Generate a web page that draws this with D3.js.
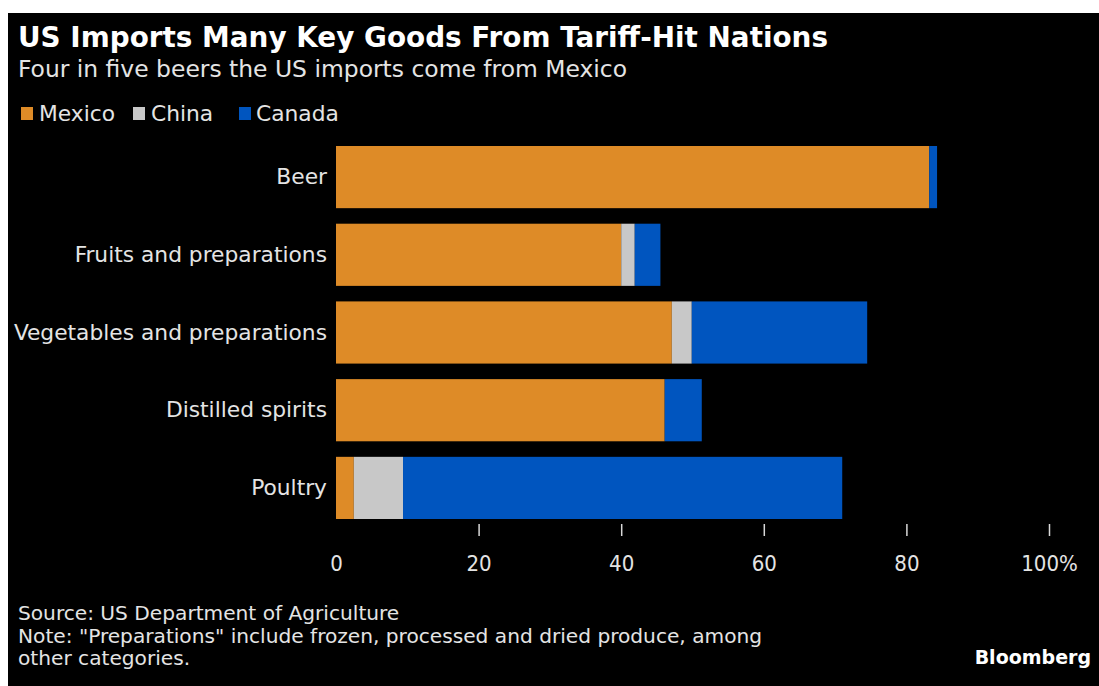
<!DOCTYPE html>
<html>
<head>
<meta charset="utf-8">
<script src="https://cdn.jsdelivr.net/npm/d3@7"></script>
<style>
    html, body { margin: 0; padding: 0; background: #fff; }
    #vis { width: 1099px; height: 686px; }
    text { fill: #e4e4e4; }
</style>
</head>
<body>
<div id="vis"></div>
<script>
// chart data (percent of US imports)
var categories = ["Beer", "Fruits and preparations", "Vegetables and preparations", "Distilled spirits", "Poultry"];
var mexico = [83.2, 40.0, 47.1, 46.1, 2.5];
var china = [0, 1.9, 2.8, 0, 6.9];
var canada = [1.1, 3.6, 24.6, 5.2, 61.6];
var seriesNames = ["Mexico", "China", "Canada"];
var seriesColors = ["#de8b27", "#c8c8c8", "#0055bf"];
var tickValues = [0, 20, 40, 60, 80, 100];
var tickLabels = ["0", "20", "40", "60", "80", "100%"];

var condensed = "'DejaVu Sans Condensed', 'Liberation Sans Narrow', 'DejaVu Sans', sans-serif";
var bold = "'DejaVu Sans', sans-serif";

var width = 1099, height = 686;

//widen text a little, the original font runs wider than the condensed one
function stretch(sel, k) {
    sel.each(function () {
        var len = this.getComputedTextLength();
        d3.select(this).attr("textLength", len * k).attr("lengthAdjust", "spacingAndGlyphs");
    });
}

var svg = d3.select("#vis").append("svg").attr("width", width).attr("height", height);

//black panel
svg.append("rect").attr("x", 8).attr("y", 13).attr("width", width - 8).attr("height", height - 13).attr("fill", "#000");

//title and subtitle
svg.append("text").attr("x", 18).attr("y", 47)
    .attr("font-family", bold).attr("font-weight", "bold").attr("font-size", 28)
    .attr("textLength", 810).attr("lengthAdjust", "spacingAndGlyphs")
    .style("fill", "#fff")
    .text("US Imports Many Key Goods From Tariff-Hit Nations");

svg.append("text").attr("x", 18).attr("y", 77)
    .attr("font-family", condensed).attr("font-size", 23)
    .attr("textLength", 609).attr("lengthAdjust", "spacingAndGlyphs")
    .text("Four in five beers the US imports come from Mexico");

//legend
var legendSquareX = [21, 133, 239];
var legendTextX = [39, 151, 256];
var legend = svg.append("g").selectAll("g")
    .data(seriesNames)
    .enter().append("g");

legend.append("rect")
    .attr("x", function (d, i) { return legendSquareX[i]; })
    .attr("y", 107).attr("width", 12).attr("height", 13)
    .attr("fill", function (d, i) { return seriesColors[i]; });

legend.append("text")
    .attr("x", function (d, i) { return legendTextX[i]; })
    .attr("y", 121)
    .attr("font-family", condensed).attr("font-size", 22)
    .text(function (d) { return d; })
    .call(stretch, 1.1);

//scales
var x = d3.scaleLinear().domain([0, 100]).range([336, 1049]);
var y = d3.scaleBand().domain(categories).range([146, 519]).paddingInner(0.2).paddingOuter(0);

//stack the series
var table = categories.map(function (c, i) {
    return { category: c, Mexico: mexico[i], China: china[i], Canada: canada[i] };
});
var stacked = d3.stack().keys(seriesNames)(table);

svg.append("g").selectAll("g")
    .data(stacked)
    .enter().append("g")
    .attr("fill", function (d, i) { return seriesColors[i]; })
    .selectAll("rect")
    .data(function (d) { return d; })
    .enter().append("rect")
    .attr("x", function (d) { return x(d[0]); })
    .attr("y", function (d) { return y(d.data.category); })
    .attr("width", function (d) { return x(d[1]) - x(d[0]); })
    .attr("height", y.bandwidth());

//category labels
var yAxis = d3.axisLeft(y).tickSize(0).tickPadding(9);
var yGroup = svg.append("g").attr("transform", "translate(336,0)").call(yAxis);
yGroup.select(".domain").remove();
yGroup.selectAll("text")
    .attr("font-family", condensed).attr("font-size", 22)
    .style("fill", "#e4e4e4")
    .call(stretch, 1.1);

//x axis with ticks above labels
var xAxis = d3.axisBottom(x).tickValues(tickValues).tickSize(0).tickPadding(0)
    .tickFormat(function (d, i) { return tickLabels[i]; });
var xGroup = svg.append("g").attr("transform", "translate(0,550)").call(xAxis);
xGroup.select(".domain").remove();
xGroup.selectAll("text")
    .attr("font-family", condensed).attr("font-size", 22)
    .attr("dy", "0.95em")
    .style("fill", "#e4e4e4");
xGroup.selectAll(".tick").filter(function (d) { return d > 0; })
    .append("line").attr("y1", -26).attr("y2", -14)
    .attr("stroke", "#d8d8d8").attr("stroke-width", 1.5);

//footer
var footer = ["Source: US Department of Agriculture",
    "Note: \"Preparations\" include frozen, processed and dried produce, among",
    "other categories."];
svg.append("g").selectAll("text")
    .data(footer)
    .enter().append("text")
    .attr("x", 18)
    .attr("y", function (d, i) { return 620 + i * 22.5; })
    .attr("font-family", condensed).attr("font-size", 20)
    .text(function (d) { return d; })
    .call(stretch, 1.12);

svg.append("text").attr("x", 1091).attr("y", 664).attr("text-anchor", "end")
    .attr("font-family", bold).attr("font-weight", "bold").attr("font-size", 19)
    .style("fill", "#fff")
    .text("Bloomberg");
</script>
</body>
</html>
